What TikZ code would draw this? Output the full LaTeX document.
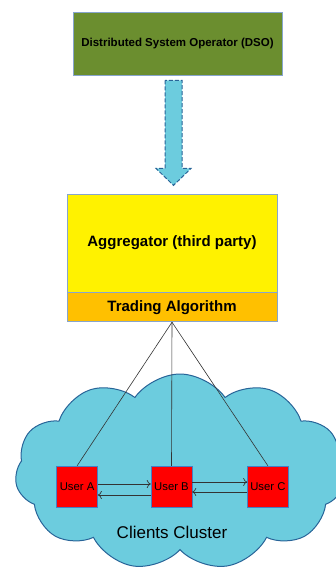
\documentclass[tikz,border=0pt]{standalone}
\usepackage{fontspec}
\setmainfont{Liberation Sans}
\usetikzlibrary{positioning,shapes.symbols,arrows.meta}
\definecolor{dsogreen}{RGB}{107,142,47}
\definecolor{edgeblue}{RGB}{135,165,205}
\definecolor{cloudfill}{RGB}{108,204,222}
\definecolor{cloudline}{RGB}{40,100,152}
\definecolor{tradeorange}{RGB}{255,192,0}
\definecolor{userline}{RGB}{70,125,195}

\begin{document}
\begin{tikzpicture}[x=1pt,y=1pt,
	box/.style={draw=edgeblue,line width=0.8pt,minimum width=210pt,inner sep=0pt},
	user/.style={draw=userline,fill=red,minimum size=41pt,inner sep=0pt,font=\fontsize{11.3}{13}\selectfont},
	link/.style={draw=black!80,line width=0.6pt},
	flow/.style={-{To[length=4pt,width=8pt]},draw=black!80,line width=0.7pt},
	bigarrow/.style={fill=cloudfill,draw=cloudline,line width=1pt,dash pattern=on 4pt off 2pt}]
	\useasboundingbox (0,0) rectangle (336,-572);
	
	\node[cloud, cloud puffs=11, cloud puff arc=110, aspect=1.8, minimum width=330pt, minimum height=196pt,
		fill=cloudfill, draw=cloudline, line width=1pt] (cluster) at (180,-472) {};
	\node at (172,-532) [font=\fontsize{17}{20}\selectfont] (clients) {Clients Cluster};
	
	\node[box,fill=dsogreen,minimum width=209pt,minimum height=63pt,font=\fontsize{11.5}{13}\bfseries] (dso) at (177.5,-43.5) {Distributed System Operator (DSO)};
	\node[box,fill=yellow,minimum height=98pt,font=\fontsize{15}{17}\bfseries] (agg) at (172,-243) {Aggregator (third party)};
	\node[box,fill=tradeorange,minimum height=29pt,font=\fontsize{15}{17}\bfseries,below=0pt of agg] (trade) {Trading Algorithm};
	
	\path (agg.north |- dso.south) ++(1.5,-5) coordinate (s);
	\draw[bigarrow] (s) ++(-8.5,0) -- ++(0,-88) -- ++(-9,0) -- ++(17.5,-17) -- ++(17.5,17) -- ++(-9,0) -- ++(0,88) -- cycle;
	
	\node[user] (userB) at (171.5,-486.5) {User B};
	\node[user,left=53pt of userB] (userA) {User A};
	\node[user,right=55pt of userB] (userC) {User C};
	
	\draw[link] (trade.south) -- (userA.north);
	\draw[link] (trade.south) -- (userB.north);
	\draw[link] (trade.south) -- (userC.north);
	
	\draw[flow] ([yshift=2.5pt]userA.east) -- ([yshift=2.5pt]userB.west);
	\draw[flow] ([yshift=-8.5pt]userB.west) -- ([yshift=-8.5pt]userA.east);
	\draw[flow] ([yshift=4.5pt]userB.east) -- ([yshift=4.5pt]userC.west);
	\draw[flow] ([yshift=-5.5pt]userC.west) -- ([yshift=-5.5pt]userB.east);
\end{tikzpicture}
\end{document}
